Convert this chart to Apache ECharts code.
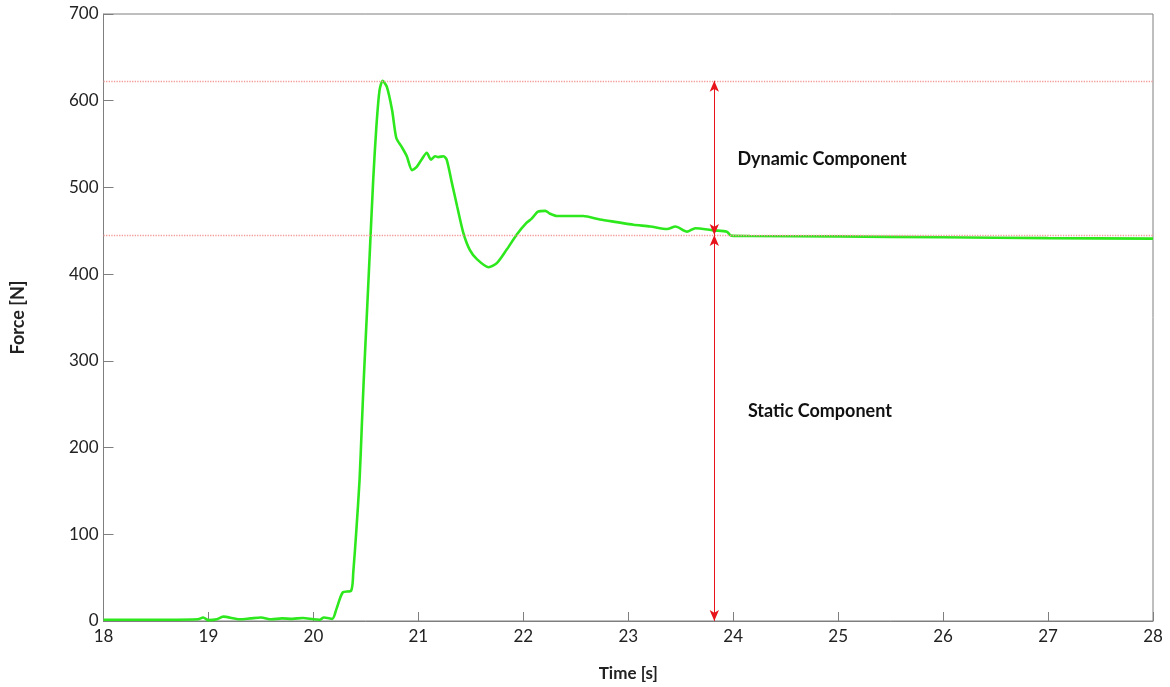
<!DOCTYPE html>
<html>
<head>
<meta charset="utf-8">
<script src="https://cdn.jsdelivr.net/npm/echarts@6/dist/echarts.min.js"></script>
<style>
  html, body { margin: 0; padding: 0; background: #fff; }
  #main { width: 1170px; height: 687px; }
</style>
</head>
<body>
<div id="main"></div>
<script>
var time = [18.0, 18.3, 18.6, 18.9, 18.95, 19.0, 19.08, 19.14, 19.3, 19.4, 19.5, 19.6, 19.7, 19.8, 19.9, 20.0, 20.06, 20.1, 20.18,
  20.22, 20.28, 20.36, 20.38, 20.41, 20.44, 20.46, 20.48, 20.51, 20.54, 20.57, 20.60, 20.63, 20.66, 20.70, 20.75, 20.79, 20.84, 20.89,
  20.94, 20.98, 21.03, 21.08, 21.12, 21.16, 21.19, 21.24, 21.27, 21.32, 21.37, 21.43, 21.49, 21.56, 21.67, 21.75, 21.84, 21.94,
  22.03, 22.08, 22.14, 22.21, 22.25, 22.32, 22.57, 22.73, 22.89, 23.05, 23.21, 23.37, 23.45, 23.56, 23.64, 23.81, 23.94, 23.98,
  24.16, 25.0, 26.0, 27.0, 28.0];
var force = [1.5, 1.5, 1.5, 2, 4, 1, 2, 5, 2, 3, 4, 2, 3, 2.5, 3.5, 2, 1.5, 4, 2.5,
  14, 33, 35, 56, 106, 163, 221, 279, 355, 432, 509, 570, 612, 623, 616, 589, 557, 547, 536,
  520, 523, 532, 540, 532, 536, 535, 536, 532, 505, 478, 447, 428, 417, 408, 413, 428, 446,
  459, 464, 472, 473, 470, 467, 467, 463, 460, 457, 455, 452, 455, 449, 453, 450.5, 449, 444.4,
  444, 443.5, 442.5, 441.5, 441];

// reference levels and annotation
var peakLevel = 623;
var staticLevel = 445;
var arrowTime = 23.82;
var xTicks = [18, 19, 20, 21, 22, 23, 24, 25, 26, 27, 28];
var yTicks = [0, 100, 200, 300, 400, 500, 600, 700];

var font = 'Lato, "Open Sans", sans-serif';
var arrowColor = '#e8141c';
var levelStyle = { color: '#f39a9a', type: 'dotted', width: 1.3 };

var chart = echarts.init(document.getElementById('main'));

var seriesData = time.map(function (t, i) { return [t, force[i]]; });

var option = {
  backgroundColor: '#ffffff',
  animation: false,
  grid: {
    left: 103.5, right: 17, top: 14, bottom: 65,
    show: true, borderColor: '#7f7f7f', borderWidth: 1
  },
  xAxis: {
    type: 'value',
    min: xTicks[0], max: xTicks[xTicks.length - 1], interval: 1,
    name: 'Time [s]', nameLocation: 'middle', nameGap: 44, nameMoveOverlap: false,
    nameTextStyle: { fontFamily: font, fontWeight: 'bold', fontSize: 17, color: '#222' },
    axisLine: { show: true, onZero: false, lineStyle: { color: '#7f7f7f' } },
    axisTick: { show: true, inside: true, length: 9, lineStyle: { color: '#7f7f7f' } },
    axisLabel: { fontFamily: font, fontSize: 17, color: '#222', margin: 7 },
    splitLine: { show: false }
  },
  yAxis: {
    type: 'value',
    min: yTicks[0], max: yTicks[yTicks.length - 1], interval: 100,
    name: 'Force [N]', nameLocation: 'middle', nameGap: 76, nameRotate: 90, nameMoveOverlap: false,
    nameTextStyle: { fontFamily: font, fontWeight: 'bold', fontSize: 18, color: '#222' },
    axisLine: { show: true, lineStyle: { color: '#7f7f7f' } },
    axisTick: { show: true, inside: true, length: 10, lineStyle: { color: '#7f7f7f' } },
    axisLabel: { fontFamily: font, fontSize: 17, color: '#222', margin: 5 },
    splitLine: { show: false }
  },
  series: [
    {
      type: 'line',
      data: [],
      silent: true,
      z: 1,
      markLine: {
        silent: true,
        symbol: ['none', 'none'],
        label: { show: false },
        lineStyle: levelStyle,
        data: [
          { yAxis: peakLevel, lineStyle: levelStyle },
          { yAxis: staticLevel, lineStyle: levelStyle }
        ]
      }
    },
    {
      type: 'line',
      data: seriesData,
      showSymbol: false,
      smooth: 0.25,
      lineStyle: { color: '#2ee81e', width: 2.6 },
      z: 3
    },
    {
      type: 'line',
      data: [],
      silent: true,
      z: 4,
      markLine: {
        silent: true,
        symbol: ['arrow', 'arrow'],
        symbolSize: [7, 11],
        label: { show: false },
        lineStyle: { color: arrowColor, type: 'solid', width: 1 },
        data: [
          [{ coord: [arrowTime, staticLevel] }, { coord: [arrowTime, peakLevel] }],
          [{ coord: [arrowTime, staticLevel] }, { coord: [arrowTime, 0] }]
        ]
      },
      markPoint: {
        silent: true,
        symbol: 'circle', symbolSize: 0,
        label: {
          show: true, position: 'right', distance: 0,
          fontFamily: font, fontWeight: 'bold', fontSize: 18, color: '#111',
          formatter: function (p) { return p.name; }
        },
        data: [
          { name: 'Dynamic Component', coord: [24.04, 533] },
          { name: 'Static Component', coord: [24.14, 242] }
        ]
      }
    }
  ]
};

chart.setOption(option);
window.addEventListener('resize', function () { chart.resize(); });
</script>
</body>
</html>
